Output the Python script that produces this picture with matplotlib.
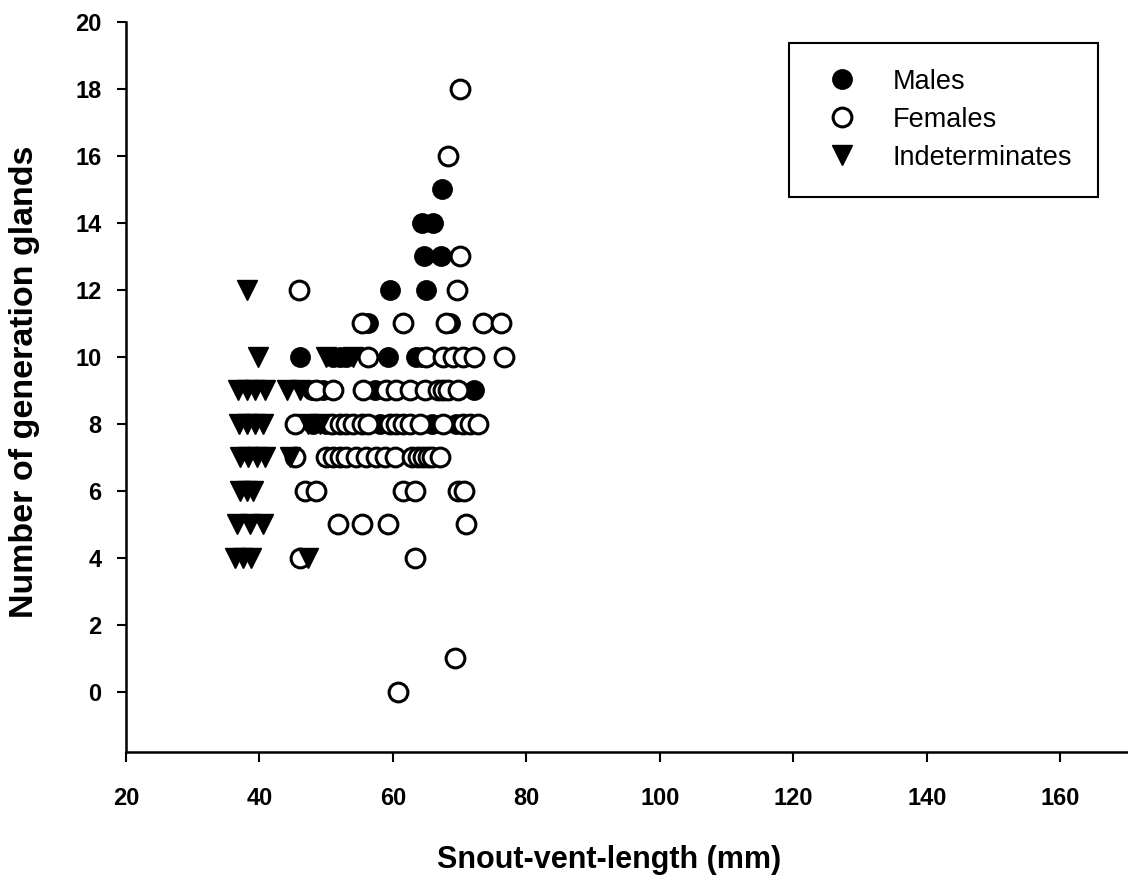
import matplotlib
matplotlib.use("Agg")
import matplotlib.pyplot as plt

plt.rcParams['font.family'] = ['Liberation Sans', 'DejaVu Sans']

# snout-vent length (mm) and gland counts
males_svl = [64.3, 66.0, 67.3, 64.7, 67.2, 59.5, 65.0, 56.3, 68.5,
             46.0, 51.0, 52.0, 53.0, 59.3, 63.5, 64.3,
             47.8, 49.5, 57.3, 67.0, 72.2,
             48.0, 50.0, 58.0, 65.8, 69.5]
males_glands = [14, 14, 15, 13, 13, 12, 12, 11, 11,
                10, 10, 10, 10, 10, 10, 10,
                9, 9, 9, 9, 9,
                8, 8, 8, 8, 8]

females_svl = [70.0, 68.2, 70.0, 45.9, 69.6,
               55.3, 61.5, 67.9, 73.5, 76.2,
               56.2, 65.0, 67.5, 69.0, 70.5, 72.2, 76.7,
               48.5, 51.0, 55.5, 59.0, 60.5, 62.5, 64.8, 66.8, 67.5, 68.3, 69.7,
               45.3, 50.8, 52.0, 53.0, 54.0, 55.3, 56.3, 59.5, 60.5, 61.5, 62.5,
               64.0, 67.5, 70.5, 71.5, 72.7,
               45.3, 50.0, 51.0, 52.0, 53.0, 54.5, 56.0, 57.5, 58.8, 60.3, 62.8,
               63.8, 64.5, 65.3, 65.8, 67.0,
               46.8, 48.5, 61.5, 63.3, 69.8, 70.6,
               51.8, 55.4, 59.3, 71.0,
               46.0, 63.3,
               69.3, 60.8]
females_glands = [18, 16, 13, 12, 12,
                  11, 11, 11, 11, 11,
                  10, 10, 10, 10, 10, 10, 10,
                  9, 9, 9, 9, 9, 9, 9, 9, 9, 9, 9,
                  8, 8, 8, 8, 8, 8, 8, 8, 8, 8, 8,
                  8, 8, 8, 8, 8,
                  7, 7, 7, 7, 7, 7, 7, 7, 7, 7, 7,
                  7, 7, 7, 7, 7,
                  6, 6, 6, 6, 6, 6,
                  5, 5, 5, 5,
                  4, 4,
                  1, 0]

indet_svl = [38.2,
             39.8, 50.0, 54.0,
             36.8, 38.1, 39.3, 40.8, 44.1, 46.0,
             37.0, 38.2, 39.4, 40.6, 47.3, 49.0,
             37.1, 38.3, 39.6, 40.8, 44.5,
             37.1, 38.1, 39.1,
             36.6, 38.6, 40.6,
             36.3, 37.6, 38.8, 47.3]
indet_glands = [12,
                10, 10, 10,
                9, 9, 9, 9, 9, 9,
                8, 8, 8, 8, 8, 8,
                7, 7, 7, 7, 7,
                6, 6, 6,
                5, 5, 5,
                4, 4, 4, 4]

fig = plt.figure(figsize=(11.28, 8.82), dpi=100)
ax = fig.add_axes([0.1117, 0.1474, 0.8875, 0.8276])

ax.plot(males_svl, males_glands, 'o', ms=13.5, mfc='black', mec='black',
        mew=1.5, label='Males')
ax.plot(females_svl, females_glands, 'o', ms=13.5, mfc='white', mec='black',
        mew=2.2, label='Females')
ax.plot(indet_svl, indet_glands, 'v', ms=14, mfc='black', mec='black',
        mew=1, label='Indeterminates')

ax.set_xlim(20, 170)
ax.set_ylim(-1.8, 20)
ax.set_xticks(range(20, 161, 20))
ax.set_yticks(range(0, 21, 2))

for side in ['left', 'bottom']:
    ax.spines[side].set_linewidth(1.8)
for side in ['top', 'right']:
    ax.spines[side].set_visible(False)

ax.tick_params(axis='x', direction='out', length=7, width=1.5, pad=18)
ax.tick_params(axis='y', direction='out', length=6.5, width=1.5, pad=11)
for lab in ax.get_xticklabels() + ax.get_yticklabels():
    lab.set_fontsize(17)
    lab.set_fontweight('bold')

ax.set_xlabel('Snout-vent-length (mm)', fontsize=22, fontweight='bold',
              va='center')
ax.set_ylabel('Number of generation glands', fontsize=24.5, fontweight='bold',
              va='center')
ax.xaxis.set_label_coords(0.483, -0.148)
ax.yaxis.set_label_coords(-0.101, 0.507)

leg = ax.legend(loc='upper right', bbox_to_anchor=(0.971, 0.971),
                borderaxespad=0, fancybox=False, framealpha=1,
                edgecolor='black', fontsize=19.5, handletextpad=0.89,
                borderpad=0.95, labelspacing=0.44, handlelength=2.0)
leg.get_frame().set_linewidth(1.5)

fig.savefig('out.png', dpi=100)
